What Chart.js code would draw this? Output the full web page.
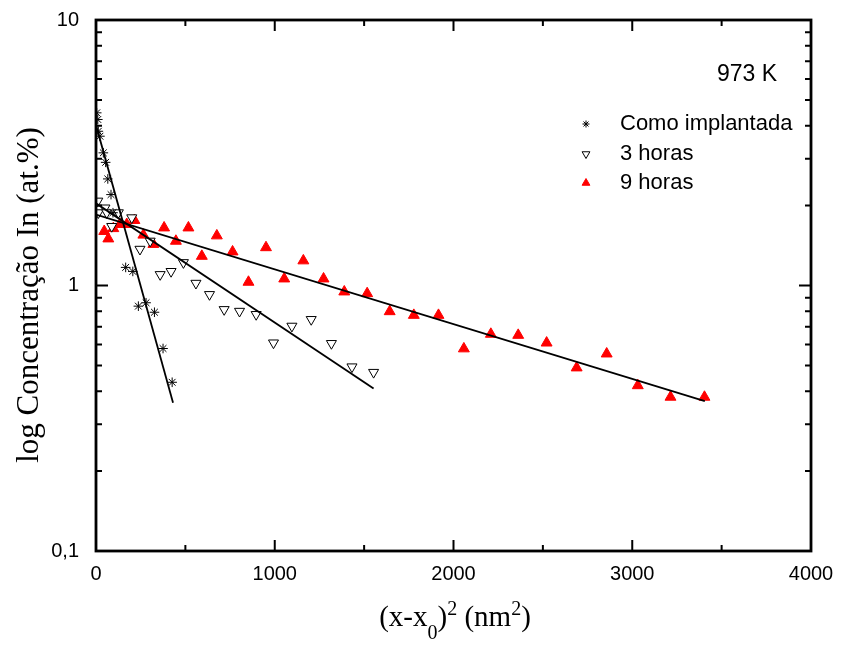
<!DOCTYPE html>
<html>
<head>
<meta charset="utf-8">
<script src="https://cdn.jsdelivr.net/npm/chart.js@4/dist/chart.umd.min.js"></script>
<style>
  body { margin: 0; background: #fff; }
  canvas { display: block; }
</style>
</head>
<body>
<canvas id="difusaoChart" width="842" height="646"></canvas>
<script>
// dados (x = (x-x0)^2 em nm^2, y = concentração In em at.%)
const implantadaX = [4, 10, 13, 22, 41, 54, 66, 84, 95, 166, 206, 237, 280, 327, 375, 426];
const implantadaY = [4.47, 4.22, 3.81, 3.65, 3.16, 2.91, 2.52, 2.20, 1.88, 1.17, 1.13, 0.836, 0.861, 0.793, 0.579, 0.432];

const tresHorasX = [10, 13, 50, 60, 125, 88, 200, 246, 303, 359, 420, 489, 559, 635, 717, 803, 896, 993, 1096, 1204, 1317, 1432, 1553];
const tresHorasY = [2.08, 1.88, 1.96, 1.88, 1.88, 1.67, 1.80, 1.37, 1.47, 1.10, 1.13, 1.22, 1.02, 0.925, 0.812, 0.800, 0.778, 0.608, 0.703, 0.745, 0.605, 0.494, 0.471];

const noveHorasX = [46, 69, 97, 134, 172, 215, 265, 321, 381, 447, 517, 592, 676, 764, 853, 951, 1053, 1160, 1273, 1389, 1517, 1643, 1778, 1916, 2058, 2209, 2362, 2521, 2689, 2857, 3031, 3214, 3404];
const noveHorasY = [1.60, 1.50, 1.64, 1.70, 1.70, 1.76, 1.55, 1.43, 1.65, 1.47, 1.65, 1.29, 1.54, 1.34, 1.03, 1.39, 1.06, 1.24, 1.06, 0.947, 0.933, 0.798, 0.773, 0.773, 0.578, 0.656, 0.650, 0.608, 0.490, 0.553, 0.420, 0.380, 0.380];

// retas de ajuste (extremos)
const ajusteImplantadaX = [0, 431];
const ajusteImplantadaY = [4.02, 0.362];
const ajuste3hX = [0, 1553];
const ajuste3hY = [2.04, 0.409];
const ajuste9hX = [0, 3406];
const ajuste9hY = [1.85, 0.367];

const xTicks = [0, 1000, 2000, 3000, 4000];
const xMinorTicks = [500, 1500, 2500, 3500];
const yTicks = [0.1, 1, 10];
const yMinorTicks = [0.2, 0.3, 0.4, 0.5, 0.6, 0.7, 0.8, 0.9, 2, 3, 4, 5, 6, 7, 8, 9];

const legendLabels = ["Como implantada", "3 horas", "9 horas"];
const temperatura = "973 K";

const toPoints = (xs, ys) => xs.map((x, i) => ({ x, y: ys[i] }));

const sansFont = "'Liberation Sans', Arial, sans-serif";
const serifFont = "'Liberation Serif', 'Times New Roman', serif";

const markerStyles = [
  { pointStyle: "star", radius: 4.8, rotation: 0, borderColor: "#000", backgroundColor: "#000", borderWidth: 1 },
  { pointStyle: "triangle", radius: 5.8, rotation: 180, borderColor: "#000", backgroundColor: "#fff", borderWidth: 1 },
  { pointStyle: "triangle", radius: 6.3, rotation: 0, borderColor: "#ff0000", backgroundColor: "#ff0000", borderWidth: 1 },
];

function scatterSet(label, xs, ys, style) {
  return {
    label,
    data: toPoints(xs, ys),
    pointStyle: style.pointStyle,
    pointRadius: style.radius,
    rotation: style.rotation,
    borderColor: style.borderColor,
    backgroundColor: style.backgroundColor,
    borderWidth: style.borderWidth,
    showLine: false,
  };
}

function fitSet(xs, ys) {
  return {
    label: "",
    data: toPoints(xs, ys),
    showLine: true,
    pointRadius: 0,
    borderColor: "#000",
    borderWidth: 1.8,
    fill: false,
  };
}

const framePlugin = {
  id: "framePlugin",
  afterDraw(chart) {
    const { ctx, chartArea: area, scales } = chart;
    const xs = scales.x;
    const ys = scales.y;
    ctx.save();
    ctx.strokeStyle = "#000";

    // ticks para dentro nos quatro lados
    ctx.lineWidth = 2;
    ctx.beginPath();
    const tickX = (v, len) => {
      const px = xs.getPixelForValue(v);
      ctx.moveTo(px, area.bottom);
      ctx.lineTo(px, area.bottom - len);
      ctx.moveTo(px, area.top);
      ctx.lineTo(px, area.top + len);
    };
    const tickY = (v, len) => {
      const py = ys.getPixelForValue(v);
      ctx.moveTo(area.left, py);
      ctx.lineTo(area.left + len, py);
      ctx.moveTo(area.right, py);
      ctx.lineTo(area.right - len, py);
    };
    xTicks.forEach((v) => tickX(v, 11));
    xMinorTicks.forEach((v) => tickX(v, 6));
    yTicks.forEach((v) => tickY(v, 12));
    yMinorTicks.forEach((v) => tickY(v, 6));
    ctx.stroke();

    // moldura
    ctx.lineWidth = 2.8;
    ctx.strokeRect(area.left, area.top, area.right - area.left, area.bottom - area.top);

    // temperatura
    ctx.fillStyle = "#000";
    ctx.font = "23px " + sansFont;
    ctx.textBaseline = "middle";
    ctx.textAlign = "right";
    ctx.fillText(temperatura, 777, 75);

    // legenda
    ctx.textAlign = "left";
    const rows = [124, 154, 183];
    legendLabels.forEach((text, i) => {
      const st = markerStyles[i];
      ctx.save();
      ctx.strokeStyle = st.borderColor;
      ctx.fillStyle = st.backgroundColor;
      ctx.lineWidth = st.borderWidth;
      Chart.helpers.drawPoint(ctx, {
        pointStyle: st.pointStyle,
        radius: i === 0 ? 3.5 : 4.5,
        rotation: st.rotation,
        borderWidth: st.borderWidth,
      }, 586, rows[i]);
      ctx.restore();
      ctx.fillStyle = "#000";
      ctx.font = "22px " + sansFont;
      ctx.fillText(text, 620, rows[i]);
    });

    // titulo do eixo y
    ctx.save();
    ctx.translate(30, 295);
    ctx.rotate(-Math.PI / 2);
    ctx.font = "31px " + serifFont;
    ctx.textAlign = "center";
    ctx.textBaseline = "middle";
    ctx.fillText("log Concentração In (at.%)", 0, 0);
    ctx.restore();

    // titulo do eixo x: (x-x0)^2 (nm^2)
    const base = 626;
    const parts = [
      { t: "(x-x", size: 29, dy: 0 },
      { t: "0", size: 20, dy: 13 },
      { t: ")", size: 29, dy: 0 },
      { t: "2", size: 20, dy: -11 },
      { t: " (nm", size: 29, dy: 0 },
      { t: "2", size: 20, dy: -11 },
      { t: ")", size: 29, dy: 0 },
    ];
    ctx.textBaseline = "alphabetic";
    ctx.textAlign = "left";
    let total = 0;
    parts.forEach((p) => {
      ctx.font = p.size + "px " + serifFont;
      p.w = ctx.measureText(p.t).width;
      total += p.w;
    });
    let cx = 455 - total / 2;
    parts.forEach((p) => {
      ctx.font = p.size + "px " + serifFont;
      ctx.fillText(p.t, cx, base + p.dy);
      cx += p.w;
    });

    ctx.restore();
  },
};

const ctx = document.getElementById("difusaoChart");
new Chart(ctx, {
  type: "scatter",
  data: {
    datasets: [
      fitSet(ajusteImplantadaX, ajusteImplantadaY),
      fitSet(ajuste3hX, ajuste3hY),
      fitSet(ajuste9hX, ajuste9hY),
      scatterSet(legendLabels[0], implantadaX, implantadaY, markerStyles[0]),
      scatterSet(legendLabels[1], tresHorasX, tresHorasY, markerStyles[1]),
      scatterSet(legendLabels[2], noveHorasX, noveHorasY, markerStyles[2]),
    ],
  },
  options: {
    responsive: false,
    animation: false,
    layout: { padding: { top: 20, right: 31, left: 0, bottom: 0 } },
    plugins: {
      legend: { display: false },
      tooltip: { enabled: false },
    },
    scales: {
      x: {
        type: "linear",
        min: 0,
        max: 4000,
        grid: { display: false, drawTicks: false },
        border: { display: false },
        afterBuildTicks: (scale) => {
          scale.ticks = xTicks.map((v) => ({ value: v }));
        },
        ticks: {
          color: "#000",
          padding: 11,
          maxRotation: 0,
          font: { family: sansFont, size: 20 },
          callback: (v) => String(v),
        },
        afterFit: (scale) => {
          scale.height = 95;
          scale.paddingLeft = 0;
          scale.paddingRight = 0;
        },
      },
      y: {
        type: "logarithmic",
        min: 0.1,
        max: 10,
        grid: { display: false, drawTicks: false },
        border: { display: false },
        afterBuildTicks: (scale) => {
          scale.ticks = yTicks.map((v) => ({ value: v }));
        },
        ticks: {
          color: "#000",
          padding: 17,
          font: { family: sansFont, size: 20 },
          callback: (v) => String(v).replace(".", ","),
        },
        afterFit: (scale) => {
          scale.width = 96;
          scale.paddingTop = 0;
          scale.paddingBottom = 0;
        },
      },
    },
  },
  plugins: [framePlugin],
});
</script>
</body>
</html>
